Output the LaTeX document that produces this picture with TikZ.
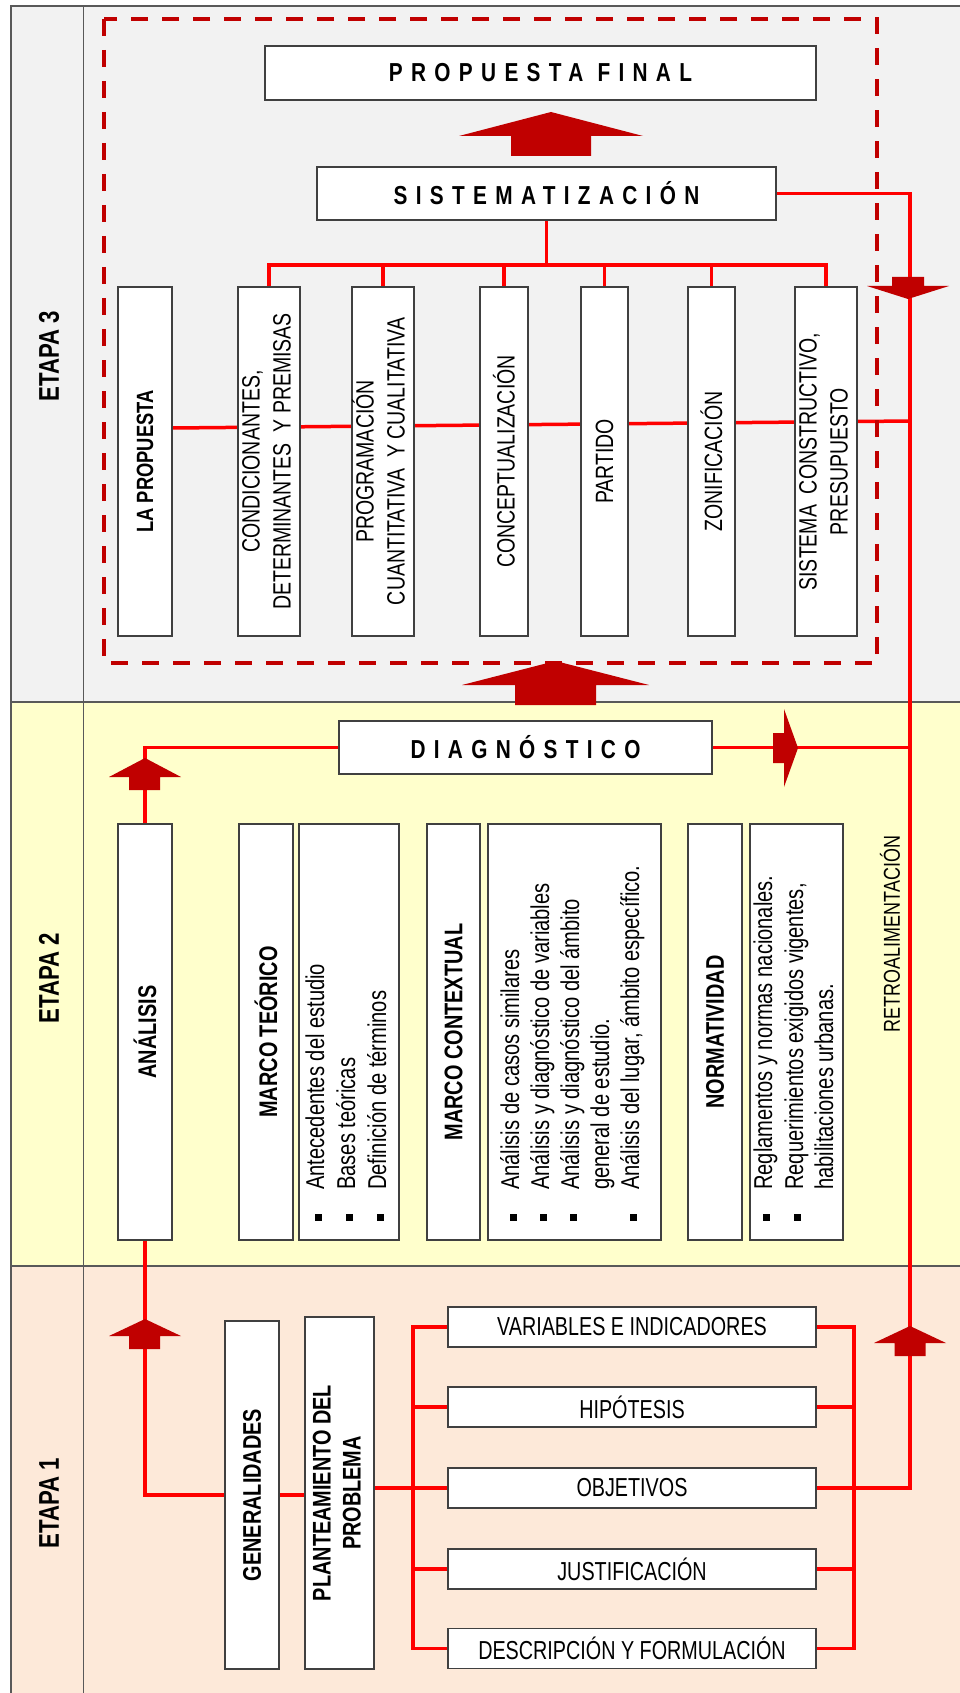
\documentclass[tikz,border=0pt]{standalone}
\usepackage{fontspec}
\usepackage{graphicx}
\setmainfont{Liberation Sans}[FakeStretch=0.78]
\newfontfamily\narrowfont[FakeStretch=0.76]{Liberation Sans}
\newfontfamily\spacedfont[LetterSpace=32,FakeStretch=0.8]{Liberation Sans}
\definecolor{band3}{HTML}{F2F2F2}
\definecolor{band2}{HTML}{FFFFCC}
\definecolor{band1}{HTML}{FDE9D9}
\definecolor{linered}{HTML}{FF0000}
\definecolor{arrowred}{HTML}{C00000}
\definecolor{boxgray}{HTML}{404040}
\definecolor{bandgray}{HTML}{595959}
\pgfdeclarelayer{bg}
\pgfdeclarelayer{lines}
\pgfsetlayers{bg,lines,main}
\tikzset{
  box/.style={draw=boxgray,line width=1.4pt,fill=white,inner sep=0pt},
  tall3/.style={box,minimum height=349pt},
  tall2/.style={box,minimum height=416pt},
  rbox/.style={box,minimum width=368pt,minimum height=40pt,font=\narrowfont\fontsize{26}{30}\selectfont},
  conn/.style={draw=linered,line width=3.5pt},
  blockarrow/.style={fill=arrowred},
  bandline/.style={draw=bandgray,line width=1.5pt},
  bulletsq/.style={fill=black,minimum size=7pt,inner sep=0pt},
  vbold/.style={font=\bfseries\fontsize{25.5}{30}\selectfont},
  vreg/.style={font=\fontsize{25}{31}\selectfont},
  btext/.style={rotate=90,anchor=west,inner sep=0pt,font=\fontsize{25.8}{30}\selectfont},
  hwide/.style={font=\spacedfont\bfseries\fontsize{26}{30}\selectfont},
  etapa/.style={rotate=90,font=\bfseries\fontsize{28.5}{30}\selectfont},
}
\begin{document}
\begin{tikzpicture}[x=1pt,y=-1pt]
\useasboundingbox (0,0) rectangle (960,1693);
% bands
\begin{pgfonlayer}{bg}
\fill[band3] (11,6) rectangle (960,702);
\fill[band2] (11,702) rectangle (960,1266);
\fill[band1] (11,1266) rectangle (960,1693);
\draw[bandline] (960,6) -- (11,6) -- (11,1693);
\draw[bandline] (11,702) -- (960,702);
\draw[bandline] (11,1266) -- (960,1266);
\draw[bandline,line width=1pt] (83,6) -- (83,1693);
\end{pgfonlayer}

\node[etapa] (e3) at (49,356) {ETAPA 3};
\node[etapa] (e2) at (49,978) {ETAPA 2};
\node[etapa] (e1) at (49,1503) {ETAPA 1};

% ETAPA 3
\node[box,minimum width=551pt,minimum height=54pt,hwide] (pf) at (540.5,73) {PROPUESTA FINAL};
\node[box,minimum width=459pt,minimum height=53pt,hwide] (sist) at (546.5,193.5) {SISTEMATIZACIÓN};

\node[tall3,minimum width=54pt,font=\bfseries\fontsize{23.5}{30}\selectfont] (prop) at (145,461.5) {\rotatebox{90}{LA PROPUESTA}};
\node[tall3,minimum width=60pt,vreg] (cond) at (269,461.5) {\rotatebox{90}{\begin{tabular}{@{}c@{}}CONDICIONANTES,\\DETERMINANTES\ \ Y PREMISAS\end{tabular}}};
\node[tall3,minimum width=60pt,vreg] (prog) at (383,461.5) {\rotatebox{90}{\begin{tabular}{@{}c@{}}PROGRAMACIÓN\\CUANTITATIVA\ \ Y CUALITATIVA\end{tabular}}};
\node[tall3,minimum width=48pt,vreg] (conc) at (504,461.5) {\rotatebox{90}{CONCEPTUALIZACIÓN}};
\node[tall3,minimum width=47pt,vreg] (part) at (604.5,461.5) {\rotatebox{90}{PARTIDO}};
\node[tall3,minimum width=47pt,vreg] (zoni) at (711.5,461.5) {\rotatebox{90}{ZONIFICACIÓN}};
\node[tall3,minimum width=60pt,vreg] (sisc) at (826,461.5) {\rotatebox{90}{\begin{tabular}{@{}c@{}}SISTEMA\ \ CONSTRUCTIVO,\\PRESUPUESTO\end{tabular}}};

% ETAPA 2
\node[box,minimum width=373pt,minimum height=53pt,hwide] (diag) at (525.5,747.5) {DIAGNÓSTICO};
\node[tall2,minimum width=54pt,vbold] (ana) at (145,1032) {\rotatebox{90}{ANÁLISIS}};
\node[tall2,minimum width=54pt,vbold] (mt) at (266,1032) {\rotatebox{90}{MARCO TEÓRICO}};
\node[tall2,minimum width=100pt] (bl1) at (349,1032) {};
\node[tall2,minimum width=53pt,vbold] (mc) at (453.5,1032) {\rotatebox{90}{MARCO CONTEXTUAL}};
\node[tall2,minimum width=173pt] (bl2) at (574.5,1032) {};
\node[tall2,minimum width=54pt,vbold] (norm) at (715,1032) {\rotatebox{90}{NORMATIVIDAD}};
\node[tall2,minimum width=93pt] (bl3) at (796.5,1032) {};

\node[btext] (t1a) at (318,1190) {\strut Antecedentes del estudio};
\node[btext] (t1b) at (349,1190) {\strut Bases teóricas};
\node[btext] (t1c) at (380,1190) {\strut Definición de términos};
\node[bulletsq] (s1a) at (318,1217) {};
\node[bulletsq] (s1b) at (349,1217) {};
\node[bulletsq] (s1c) at (380,1217) {};

\node[btext] (t2a) at (513,1190) {\strut Análisis de casos similares};
\node[btext] (t2b) at (543,1190) {\strut Análisis y diagnóstico de variables};
\node[btext] (t2c) at (573,1190) {\strut Análisis y diagnóstico del ámbito};
\node[btext] (t2d) at (603,1190) {\strut general de estudio.};
\node[btext] (t2e) at (633,1190) {\strut Análisis del lugar, ámbito específico.};
\node[bulletsq] (s2a) at (513,1217) {};
\node[bulletsq] (s2b) at (543,1217) {};
\node[bulletsq] (s2c) at (573,1217) {};
\node[bulletsq] (s2e) at (633,1217) {};

\node[btext] (t3a) at (766,1190) {\strut Reglamentos y normas nacionales.};
\node[btext] (t3b) at (797,1190) {\strut Requerimientos exigidos vigentes,};
\node[btext] (t3c) at (827,1190) {\strut habilitaciones urbanas.};
\node[bulletsq] (s3a) at (766,1217) {};
\node[bulletsq] (s3b) at (797,1217) {};

\node[rotate=90,font=\fontsize{23}{26}\selectfont] (retro) at (890,934) {RETROALIMENTACIÓN};

% ETAPA 1
\node[box,minimum width=54pt,minimum height=348pt,vbold] (gen) at (252,1495) {\rotatebox{90}{GENERALIDADES}};
\node[box,minimum width=69pt,minimum height=352pt,vbold] (plan) at (339.5,1493) {\rotatebox{90}{\begin{tabular}{@{}c@{}}PLANTEAMIENTO DEL\\PROBLEMA\end{tabular}}};
\node[rbox] (var) at (632,1327) {VARIABLES E INDICADORES};
\node[rbox] (hip) at (632,1407) {HIPÓTESIS};
\node[rbox] (obj) at (632,1488) {OBJETIVOS};
\node[rbox] (jus) at (632,1569) {JUSTIFICACIÓN};
\node[rbox] (desc) at (632,1648.5) {DESCRIPCIÓN Y FORMULACIÓN};

% connectors
\coordinate (rb) at (910,1488);
\coordinate (tj) at (546.5,265);
\coordinate (mly) at (0,428);
\coordinate (mlB) at (910,421);
\coordinate (lbus) at (413,0);
\coordinate (rbus) at (854,0);
\begin{pgfonlayer}{lines}
\draw[conn] (sist.east) -| (rb) -- (obj.east);
\draw[conn] (sist.south) -- (tj);
\draw[conn] (cond.north) |- (tj) -| (sisc.north);
\foreach \n in {prog,conc,part,zoni} \draw[conn] (\n.north) -- (\n.north |- tj);
\draw[conn] (prop.east |- mly) -- (mlB);
\draw[conn] (diag.west) -| (ana.north);
\draw[conn] (diag.east) -- (diag.east -| rb);
\draw[conn] (ana.south) |- (gen.west);
\draw[conn] (gen.east) -- (gen.east -| plan.west);
\draw[conn] (plan.east |- obj.west) -- (obj.west);
\draw[conn] (var.west) -| (lbus |- desc.west) -- (desc.west);
\foreach \n in {hip,obj,jus} \draw[conn] (\n.west) -- (\n.west -| lbus);
\draw[conn] (var.east) -| (rbus |- desc.east) -- (desc.east);
\foreach \n in {hip,obj,jus} \draw[conn] (\n.east) -- (\n.east -| rbus);
\draw[arrowred,line width=4.5pt,dash pattern=on 17pt off 14pt] (104,19) rectangle (877,663);
\end{pgfonlayer}

% block arrows
\fill[blockarrow] (551,112) -- (643,136) -- (591,136) -- (591,156) -- (511,156) -- (511,136) -- (459,136) -- cycle;
\fill[blockarrow] (555.5,661) -- (649,685) -- (596,685) -- (596,705) -- (515,705) -- (515,685) -- (462,685) -- cycle;
\fill[blockarrow] (145,758) -- (181,777) -- (160,777) -- (160,790) -- (129,790) -- (129,777) -- (109,777) -- cycle;
\fill[blockarrow] (145,1319) -- (181,1336) -- (160,1336) -- (160,1349) -- (129,1349) -- (129,1336) -- (109,1336) -- cycle;
\fill[blockarrow] (910,1326) -- (946,1343) -- (925.5,1343) -- (925.5,1356) -- (894.5,1356) -- (894.5,1343) -- (874,1343) -- cycle;
\fill[blockarrow] (892,277) -- (924,277) -- (924,286) -- (949,286) -- (908,299) -- (867,286) -- (892,286) -- cycle;
\fill[blockarrow] (773,733) -- (784,733) -- (784,709) -- (798,748) -- (784,787) -- (784,763) -- (773,763) -- cycle;
\end{tikzpicture}
\end{document}
